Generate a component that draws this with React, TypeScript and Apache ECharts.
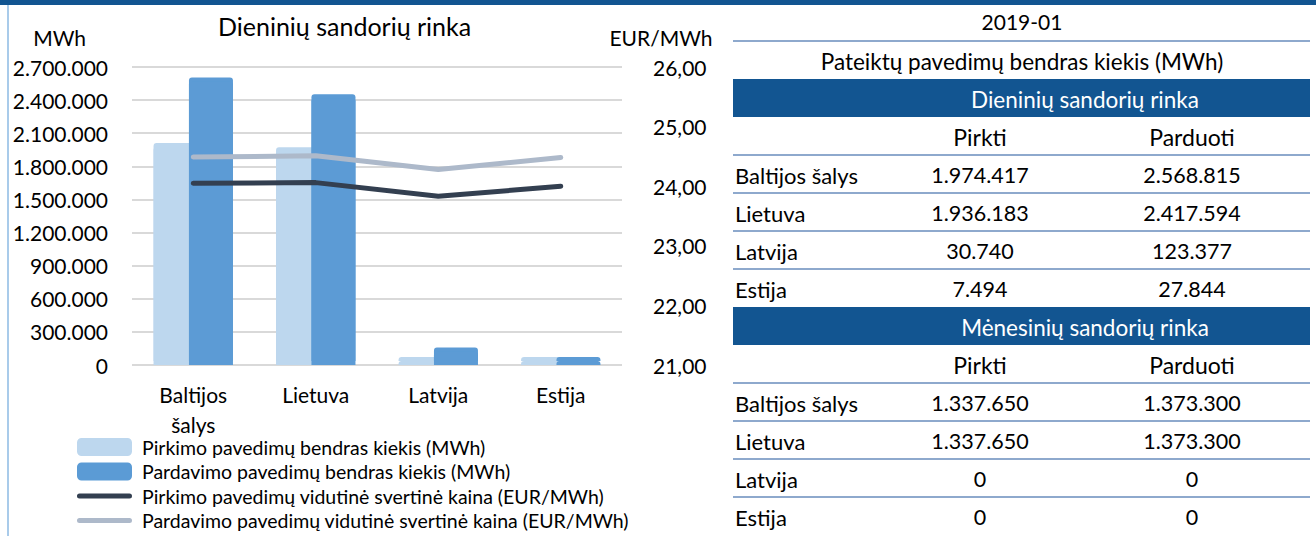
import React, { useEffect, useRef } from 'react';
import * as echarts from 'echarts';

// ---------- data ----------
const categories = ['Baltijos šalys', 'Lietuva', 'Latvija', 'Estija'];
const dayBuyVolume = [1974417, 1936183, 30740, 7494];
const daySellVolume = [2568815, 2417594, 123377, 27844];
const buyPrice = [24.05, 24.06, 23.83, 24.0];
const sellPrice = [24.49, 24.51, 24.28, 24.48];
const monthBuyVolume = [1337650, 1337650, 0, 0];
const monthSellVolume = [1373300, 1373300, 0, 0];

const seriesNames = [
  'Pirkimo pavedimų bendras kiekis (MWh)',
  'Pardavimo pavedimų bendras kiekis (MWh)',
  'Pirkimo pavedimų vidutinė svertinė kaina (EUR/MWh)',
  'Pardavimo pavedimų vidutinė svertinė kaina (EUR/MWh)',
];
const chartTitle = 'Dieninių sandorių rinka';
const volumeAxisName = 'MWh';
const priceAxisName = 'EUR/MWh';
const volumeMin = 0;
const volumeMax = 2700000;
const volumeInterval = 300000;
const priceMin = 21;
const priceMax = 26;
const priceInterval = 1;

const tablePeriod = '2019-01';
const tableTitle = 'Pateiktų pavedimų bendras kiekis (MWh)';
const dayMarketTitle = 'Dieninių sandorių rinka';
const monthMarketTitle = 'Mėnesinių sandorių rinka';
const columnHeaders = ['Pirkti', 'Parduoti'];

// ---------- styles ----------
const FONT = 'Lato';
const BLUE_DARK = '#125591';
const TABLE_LINE = '#8EA9CD';
const C_BUY_BAR = '#BDD7EE';
const C_SELL_BAR = '#5B9BD5';
const C_BUY_LINE = '#333F50';
const C_SELL_LINE = '#ADB9CA';

const fmtThousands = (n: number) =>
  String(Math.round(n)).replace(/\B(?=(\d{3})+(?!\d))/g, '.');
const fmtPrice = (v: number) => v.toFixed(2).replace('.', ',');

function buildTable(): any[] {
  const els: any[] = [];
  const L = 733;
  const R = 1310;
  const labelX = 735;
  const col1X = 980;
  const col2X = 1192;
  const headX = 1085;
  const centerX = 1022;
  const txt = (text: string, x: number, y: number, align = 'center', fill = '#000', fs = 22) => ({
    type: 'text',
    x,
    y,
    silent: true,
    style: { text, fill, fontSize: fs, fontFamily: FONT, align, verticalAlign: 'middle' },
  });
  const hline = (y: number) => ({
    type: 'line',
    silent: true,
    shape: { x1: L, y1: y, x2: R, y2: y },
    style: { stroke: TABLE_LINE, lineWidth: 2 },
  });
  const band = (y: number, h: number) => ({
    type: 'rect',
    silent: true,
    shape: { x: L, y, width: R - L, height: h },
    style: { fill: BLUE_DARK },
  });

  els.push(txt(tablePeriod, centerX, 21, 'center', '#000', 21));
  els.push(hline(41));
  els.push(txt(tableTitle, centerX, 61, 'center', '#000', 22.5));

  const sections = [
    { top: 79, title: dayMarketTitle, buy: dayBuyVolume, sell: daySellVolume },
    { top: 307, title: monthMarketTitle, buy: monthBuyVolume, sell: monthSellVolume },
  ];
  const pitch = 38;
  sections.forEach((s) => {
    els.push(band(s.top, pitch));
    els.push(txt(s.title, headX, s.top + 20, 'center', '#fff', 22.5));
    const hy = s.top + pitch + 20;
    els.push(txt(columnHeaders[0], col1X, hy, 'center', '#000', 23));
    els.push(txt(columnHeaders[1], col2X, hy, 'center', '#000', 23));
    els.push(hline(s.top + 2 * pitch));
    categories.forEach((c, i) => {
      const y = s.top + (i + 2) * pitch + 20;
      els.push(txt(c, labelX, y, 'left'));
      els.push(txt(fmtThousands(s.buy[i]), col1X, y, 'center', '#000', 21.5));
      els.push(txt(fmtThousands(s.sell[i]), col2X, y, 'center', '#000', 21.5));
      if (i < categories.length - 1) els.push(hline(s.top + (i + 3) * pitch));
    });
  });
  return els;
}

const lineIcon =
  'path://M2.5,0 H52.5 A2.5,2.5 0 0 1 52.5,5 H2.5 A2.5,2.5 0 0 1 2.5,0 Z';
const noShadow = { shadowBlur: 0, shadowOffsetX: 0, shadowOffsetY: 0, shadowColor: 'rgba(0,0,0,0)' };

export default function App() {
  const ref = useRef<HTMLDivElement>(null);
  useEffect(() => {
    if (!ref.current) return;
    const chart = echarts.init(ref.current, undefined, { renderer: 'svg' });
    const axisText = { fontSize: 21, fontFamily: FONT, color: '#000' };
    chart.setOption({
      animation: false,
      backgroundColor: '#fff',
      textStyle: { fontFamily: FONT },
      title: {
        text: chartTitle,
        left: 218,
        top: 13,
        padding: 0,
        textStyle: { fontSize: 25, fontWeight: 'normal', fontFamily: FONT, color: '#000' },
      },
      grid: { left: 132, right: 694, top: 67, bottom: 171, containLabel: false },
      legend: {
        orient: 'vertical',
        left: 77,
        top: 437,
        padding: 0,
        itemWidth: 55,
        itemHeight: 18,
        itemGap: 4.5,
        textStyle: { fontSize: 19.5, fontFamily: FONT, color: '#000', padding: [0, 0, 0, 5] },
        data: [
          { name: seriesNames[0], icon: 'roundRect', itemStyle: { color: C_BUY_BAR, ...noShadow } },
          { name: seriesNames[1], icon: 'roundRect', itemStyle: { color: C_SELL_BAR, ...noShadow } },
          { name: seriesNames[2], icon: lineIcon },
          { name: seriesNames[3], icon: lineIcon },
        ],
      },
      xAxis: {
        type: 'category',
        data: categories,
        axisLine: { show: false },
        axisTick: { show: false },
        axisLabel: {
          ...axisText,
          fontSize: 21,
          interval: 0,
          margin: 14,
          lineHeight: 30,
          formatter: (v: string) => v.replace(' ', '\n'),
        },
      },
      yAxis: [
        {
          type: 'value',
          min: volumeMin,
          max: volumeMax,
          interval: volumeInterval,
          name: volumeAxisName,
          nameLocation: 'end',
          nameGap: 30,
          nameTextStyle: { ...axisText, align: 'right', verticalAlign: 'middle', padding: [0, 46, 0, 0] },
          axisLine: { show: false },
          axisTick: { show: false },
          axisLabel: { ...axisText, margin: 24, formatter: (v: number) => fmtThousands(v) },
          splitLine: { lineStyle: { color: '#D9D9D9', width: 2 } },
        },
        {
          type: 'value',
          position: 'right',
          min: priceMin,
          max: priceMax,
          interval: priceInterval,
          name: priceAxisName,
          nameLocation: 'end',
          nameGap: 30,
          nameTextStyle: { ...axisText, align: 'center', verticalAlign: 'middle', padding: [0, 0, 0, 78] },
          axisLine: { show: false },
          axisTick: { show: false },
          axisLabel: { ...axisText, margin: 31, formatter: (v: number) => fmtPrice(v) },
          splitLine: { show: false },
        },
      ],
      series: [
        {
          name: seriesNames[0],
          type: 'bar',
          data: dayBuyVolume,
          barWidth: 44,
          barGap: '-19.5%',
          barMinHeight: 4,
          clip: false,
          itemStyle: {
            color: C_BUY_BAR,
            borderRadius: [3, 3, 0, 0],
            shadowColor: C_BUY_BAR,
            shadowBlur: 0,
            shadowOffsetY: -4,
          },
        },
        {
          name: seriesNames[1],
          type: 'bar',
          data: daySellVolume,
          barWidth: 44,
          barGap: '-19.5%',
          barMinHeight: 4,
          clip: false,
          itemStyle: {
            color: C_SELL_BAR,
            borderRadius: [3, 3, 0, 0],
            shadowColor: C_SELL_BAR,
            shadowBlur: 0,
            shadowOffsetY: -4,
          },
        },
        {
          name: seriesNames[2],
          type: 'line',
          yAxisIndex: 1,
          data: buyPrice,
          symbol: 'none',
          itemStyle: { color: C_BUY_LINE },
          lineStyle: { color: C_BUY_LINE, width: 5, cap: 'round', join: 'round' },
        },
        {
          name: seriesNames[3],
          type: 'line',
          yAxisIndex: 1,
          data: sellPrice,
          symbol: 'none',
          itemStyle: { color: C_SELL_LINE },
          lineStyle: { color: C_SELL_LINE, width: 5, cap: 'round', join: 'round' },
        },
      ],
      graphic: [
        { type: 'rect', silent: true, shape: { x: 0, y: 0, width: 1316, height: 5 }, style: { fill: BLUE_DARK } },
        { type: 'rect', silent: true, shape: { x: 7, y: 5, width: 2, height: 531 }, style: { fill: '#A9CBEA' } },
        ...buildTable(),
      ],
    });
    return () => chart.dispose();
  }, []);
  return (
    <div
      ref={ref}
      style={{ position: 'absolute', left: 0, top: 0, width: 1316, height: 536, background: '#fff' }}
    />
  );
}
